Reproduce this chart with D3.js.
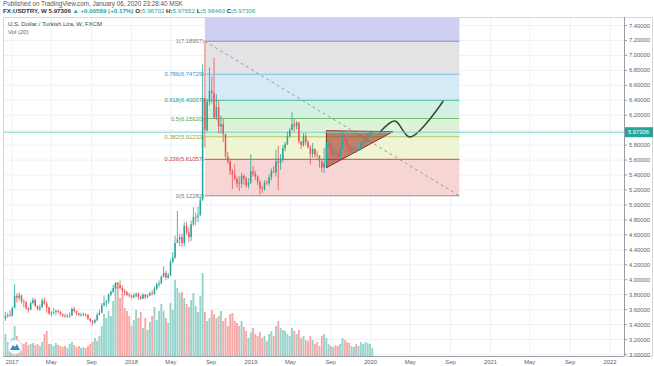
<!DOCTYPE html>
<html>
<head>
<meta charset="utf-8">
<script src="https://cdn.jsdelivr.net/npm/d3@7"></script>
<style>
    body { margin: 0; background: #fff; }
    text { font-family: "Liberation Sans", "DejaVu Sans", sans-serif; }
</style>
</head>
<body>
<div id="chart"></div>
<script>
// weekly USDTRY bars, first bar starts on Monday 2016-12-12
const firstWeek = "2016-12-12";
const firstOpen = 3.48;

const closes = [
    3.52, 3.53, 3.52,
    // 2017
    3.62, 3.78, 3.76, 3.79, 3.71, 3.70, 3.62, 3.60, 3.69, 3.73, 3.65, 3.61, 3.63,
    3.72, 3.68, 3.63, 3.55, 3.56, 3.57, 3.58, 3.57, 3.54, 3.52, 3.51, 3.52, 3.52,
    3.61, 3.58, 3.55, 3.53, 3.53, 3.54, 3.53, 3.48, 3.45, 3.43, 3.46, 3.53, 3.56,
    3.66, 3.69, 3.71, 3.80, 3.84, 3.89, 3.96, 3.93, 3.89, 3.85, 3.83, 3.80, 3.79,
    // 2018
    3.77, 3.79, 3.81, 3.77, 3.75, 3.80, 3.77, 3.79, 3.82, 3.81, 3.88, 3.94, 3.95,
    4.04, 4.09, 4.03, 4.06, 4.24, 4.30, 4.49, 4.54, 4.57, 4.49, 4.72, 4.63, 4.57,
    4.74, 4.84, 4.84, 4.86, 5.07, 6.43, 6.00, 6.38, 6.53, 6.50, 6.17, 6.31, 6.05,
    6.08, 5.95, 5.65, 5.58, 5.45, 5.41, 5.35, 5.29, 5.28, 5.39, 5.35, 5.26, 5.30, 5.45,
    // 2019
    5.42, 5.38, 5.31, 5.22, 5.21, 5.30, 5.29, 5.37, 5.45, 5.44, 5.58, 5.56, 5.60,
    5.76, 5.82, 5.92, 6.00, 6.08, 6.05, 6.10, 5.85, 5.80, 5.92, 5.84, 5.77, 5.68,
    5.75, 5.67, 5.66, 5.59, 5.50, 5.56, 5.80, 5.81, 5.68, 5.72, 5.70, 5.65, 5.75,
    5.89, 5.88, 5.80, 5.72, 5.75, 5.75, 5.73, 5.74, 5.82, 5.84, 5.86, 5.93, 5.96702,
    // 2020
    5.97306
];

const highs = [
    3.57, 3.56, 3.59,
    3.64, 3.94, 3.82, 3.83, 3.80, 3.74, 3.71, 3.64, 3.71, 3.76, 3.75, 3.66, 3.67,
    3.75, 3.76, 3.71, 3.64, 3.58, 3.62, 3.60, 3.60, 3.58, 3.55, 3.55, 3.54, 3.56,
    3.63, 3.64, 3.59, 3.56, 3.56, 3.56, 3.55, 3.54, 3.49, 3.46, 3.48, 3.56, 3.60,
    3.69, 3.79, 3.73, 3.82, 3.86, 3.93, 3.97, 3.97, 3.99, 3.92, 3.88, 3.85, 3.83,
    3.80, 3.82, 3.83, 3.83, 3.79, 3.82, 3.81, 3.81, 3.84, 3.86, 3.91, 3.96, 3.99,
    4.06, 4.18, 4.12, 4.09, 4.27, 4.37, 4.59, 4.92, 4.61, 4.62, 4.77, 4.77, 4.70,
    4.79, 4.97, 4.90, 4.98, 5.10, 6.88, 7.18957, 6.42, 6.84, 6.72, 6.97, 6.48, 6.40,
    6.20, 6.16, 5.88, 5.71, 5.62, 5.48, 5.54, 5.38, 5.38, 5.43, 5.41, 5.38, 5.36, 5.68,
    5.52, 5.46, 5.40, 5.33, 5.26, 5.33, 5.33, 5.41, 5.49, 5.52, 5.74, 5.79, 5.68,
    5.80, 5.84, 5.98, 6.03, 6.24, 6.15, 6.12, 6.11, 5.85, 5.96, 5.96, 5.87, 5.80,
    5.83, 5.75, 5.72, 5.66, 5.59, 5.76, 5.84, 5.85, 5.83, 5.79, 5.75, 5.72, 5.77,
    5.98, 5.94, 5.88, 5.80, 5.79, 5.78, 5.77, 5.78, 5.85, 5.87, 5.88, 5.95, 5.99,
    5.97652
];

const lows = [
    3.45, 3.49, 3.50,
    3.51, 3.62, 3.69, 3.72, 3.68, 3.63, 3.60, 3.56, 3.59, 3.67, 3.63, 3.59, 3.58,
    3.63, 3.66, 3.56, 3.53, 3.51, 3.54, 3.53, 3.55, 3.52, 3.50, 3.49, 3.49, 3.49,
    3.52, 3.56, 3.52, 3.51, 3.51, 3.51, 3.50, 3.46, 3.43, 3.39, 3.41, 3.44, 3.52,
    3.55, 3.64, 3.64, 3.68, 3.78, 3.82, 3.87, 3.88, 3.87, 3.80, 3.79, 3.78, 3.76,
    3.74, 3.75, 3.76, 3.73, 3.73, 3.74, 3.74, 3.75, 3.78, 3.79, 3.80, 3.86, 3.90,
    3.94, 4.03, 4.00, 4.01, 4.05, 4.22, 4.28, 4.52, 4.45, 4.44, 4.45, 4.60, 4.50,
    4.52, 4.72, 4.73, 4.77, 4.86, 5.05, 5.77, 5.98, 6.33, 6.36, 6.15, 6.13, 5.96,
    5.96, 5.84, 5.62, 5.55, 5.40, 5.21, 5.33, 5.23, 5.19, 5.23, 5.27, 5.23, 5.22, 5.28,
    5.38, 5.33, 5.27, 5.14, 5.16, 5.19, 5.27, 5.26, 5.33, 5.42, 5.38, 5.20, 5.47,
    5.57, 5.72, 5.80, 5.90, 6.00, 5.98, 6.01, 5.82, 5.75, 5.78, 5.80, 5.76, 5.54,
    5.63, 5.63, 5.62, 5.50, 5.44, 5.43, 5.53, 5.76, 5.66, 5.65, 5.66, 5.63, 5.62,
    5.75, 5.81, 5.76, 5.69, 5.70, 5.71, 5.70, 5.72, 5.73, 5.79, 5.83, 5.85, 5.93,
    5.96460
];

// tick volume, thousands
const volumes = [
    22, 14, 10,
    18, 30, 20, 15, 13, 12, 14, 11, 12, 13, 11, 12, 10,
    14, 22, 25, 12, 12, 10, 13, 11, 10, 9, 10, 8, 12,
    14, 11, 9, 10, 8, 9, 8, 10, 12, 14, 18, 15, 20,
    30, 42, 38, 45, 40, 55, 72, 70, 58, 62, 48, 45, 40,
    30, 36, 46, 38, 44, 28, 38, 26, 34, 40, 49, 36, 45,
    52, 45, 38, 33, 53, 46, 76, 68, 63, 64, 58, 52, 49,
    56, 63, 50, 44, 60, 83, 44, 35, 38, 46, 42, 38, 40,
    45, 35, 38, 30, 42, 43, 35, 33, 30, 35, 29, 25, 18, 24,
    28, 22, 20, 24, 18, 20, 15, 22, 25, 20, 30, 35, 28,
    26, 25, 22, 20, 28, 25, 22, 26, 18, 20, 16, 15, 20,
    16, 12, 14, 10, 20, 22, 18, 12, 10, 9, 11, 10, 12,
    18, 16, 14, 13, 10, 9, 12, 10, 14, 12, 14, 13, 12,
    8
];

const priceTicks = [3.0, 3.2, 3.4, 3.6, 3.8, 4.0, 4.2, 4.4, 4.6, 4.8, 5.0, 5.2,
    5.4, 5.6, 5.8, 6.0, 6.2, 6.4, 6.6, 6.8, 7.0, 7.2, 7.4];

const timeTicks = ["2017-01-01", "2017-05-01", "2017-09-01", "2018-01-01", "2018-05-01", "2018-09-01",
    "2019-01-01", "2019-05-01", "2019-09-01", "2020-01-01", "2020-05-01", "2020-09-01",
    "2021-01-01", "2021-05-01", "2021-09-01", "2022-01-01"];
const timeLabels = ["2017", "May", "Sep", "2018", "May", "Sep", "2019", "May", "Sep",
    "2020", "May", "Sep", "2021", "May", "Sep", "2022"];

// fibonacci retracement drawing: from the Aug 2018 high to the end point
const fibStart = { date: "2018-08-13", price: 7.18957 };
const fibEnd = { date: "2020-09-28", price: 5.12282 };
const fibLevels = [0, 0.236, 0.382, 0.5, 0.618, 0.786, 1, 1.618];
const fibLineColors = ["#8d9099", "#b4574f", "#b3c766", "#6cc36a", "#3fbf98", "#88c3e4", "#8d9099", "#8c8cdc"];
const fibZoneColors = ["#f7d5d5", "#eff4d3", "#ddf2d8", "#d3f0e3", "#d4eaf6", "#e3e3e5", "#cfcff3"];
const fibLabelColors = ["#7c7c7c", "#d23b3b", "#98a51f", "#4fa835", "#1f9e7a", "#3b8ecf", "#7c7c7c"];

// hand drawn triangle and projected path
const triangle = [["2019-08-19", 5.993], ["2020-03-09", 5.98], ["2019-08-19", 5.497]];
const projection = [["2020-01-27", 5.962], ["2020-03-15", 6.123], ["2020-04-30", 5.909], ["2020-08-10", 6.39]];

const lastPrice = 5.97306;

const W = 654, H = 366;
const plot = { left: 3, right: 624, top: 17, bottom: 356 };
const upColor = "#26a69a", downColor = "#ef5350";

const parse = d3.utcParse("%Y-%m-%d");

let bars = closes.map((c, i) => ({
    date: d3.utcMonday.offset(parse(firstWeek), i),
    open: i === 0 ? firstOpen : closes[i - 1],
    high: highs[i],
    low: lows[i],
    close: c,
    vol: volumes[i]
}));

const svg = d3.select("#chart").append("svg")
    .attr("width", W)
    .attr("height", H);

svg.append("rect").attr("width", W).attr("height", H).attr("fill", "#fff");

// SCALES
const x = d3.scaleUtc()
    .domain([parse("2017-01-01"), parse("2022-01-01")])
    .range([12, 610]);

const y = d3.scaleLinear()
    .domain([3.0, 7.4])
    .range([354.5, 25.5]);

const yVol = d3.scaleLinear()
    .domain([0, d3.max(volumes)])
    .range([plot.bottom, plot.bottom - 83]);

svg.append("clipPath").attr("id", "clip")
    .append("rect")
    .attr("x", plot.left).attr("y", plot.top)
    .attr("width", plot.right - plot.left).attr("height", plot.bottom - plot.top);

// grid
const grid = svg.append("g").attr("clip-path", "url(#clip)");
grid.selectAll(".vgrid").data(timeTicks).enter().append("line")
    .attr("x1", d => x(parse(d))).attr("x2", d => x(parse(d)))
    .attr("y1", plot.top).attr("y2", plot.bottom)
    .attr("stroke", "#eef1f6");
grid.selectAll(".hgrid").data(priceTicks).enter().append("line")
    .attr("x1", plot.left).attr("x2", plot.right)
    .attr("y1", d => y(d)).attr("y2", d => y(d))
    .attr("stroke", "#eef1f6");

// fib zones
const fibG = svg.append("g").attr("clip-path", "url(#clip)");
const fx0 = x(parse(fibStart.date)), fx1 = x(parse(fibEnd.date));
const fibPrice = lvl => fibEnd.price + lvl * (fibStart.price - fibEnd.price);

fibZoneColors.forEach((col, i) => {
    let yTop = y(fibPrice(fibLevels[i + 1])), yBot = y(fibPrice(fibLevels[i]));
    fibG.append("rect")
        .attr("x", fx0).attr("width", fx1 - fx0)
        .attr("y", yTop).attr("height", yBot - yTop)
        .attr("fill", col);
});

fibLevels.slice(0, 7).forEach((lvl, i) => {
    fibG.append("line")
        .attr("x1", fx0).attr("x2", fx1)
        .attr("y1", y(fibPrice(lvl))).attr("y2", y(fibPrice(lvl)))
        .attr("stroke", fibLineColors[i])
        .attr("stroke-width", 1);
    svg.append("text")
        .attr("x", fx0 - 1)
        .attr("y", y(fibPrice(lvl)) + 2)
        .attr("text-anchor", "end")
        .attr("font-size", 5.8)
        .attr("fill", fibLabelColors[i])
        .text(lvl + "(" + fibPrice(lvl).toFixed(5) + ")");
});

// dashed trend line of the fib tool
fibG.append("line")
    .attr("x1", fx0).attr("y1", y(fibStart.price))
    .attr("x2", fx1).attr("y2", y(fibEnd.price))
    .attr("stroke", "#9a9ca3")
    .attr("stroke-width", 1)
    .attr("stroke-dasharray", "3,3");

// current price line
svg.append("line")
    .attr("x1", plot.left).attr("x2", plot.right)
    .attr("y1", y(lastPrice)).attr("y2", y(lastPrice))
    .attr("stroke", "#7fd0c7")
    .attr("stroke-width", 1);

// volume
const dataG = svg.append("g").attr("clip-path", "url(#clip)");
const volW = 1.9;
dataG.selectAll(".vol").data(bars).enter().append("rect")
    .attr("x", d => x(d.date) - volW / 2)
    .attr("width", volW)
    .attr("y", d => yVol(d.vol))
    .attr("height", d => plot.bottom - yVol(d.vol))
    .attr("fill", d => d.close >= d.open ? "#95d3cc" : "#f6a8a6");

// candles
const candleW = 1.5;
dataG.selectAll(".wick").data(bars).enter().append("line")
    .attr("x1", d => x(d.date)).attr("x2", d => x(d.date))
    .attr("y1", d => y(d.high)).attr("y2", d => y(d.low))
    .attr("stroke", d => d.close >= d.open ? upColor : downColor)
    .attr("stroke-width", 0.8);
dataG.selectAll(".body").data(bars).enter().append("rect")
    .attr("x", d => x(d.date) - candleW / 2)
    .attr("width", candleW)
    .attr("y", d => y(Math.max(d.open, d.close)))
    .attr("height", d => Math.max(0.8, Math.abs(y(d.open) - y(d.close))))
    .attr("fill", d => d.close >= d.open ? upColor : downColor);

// triangle
const pt = d => [x(parse(d[0])), y(d[1])];
fibG.append("path")
    .attr("d", "M" + triangle.map(pt).join("L") + "Z")
    .attr("fill", "rgba(150, 35, 25, 0.55)")
    .attr("stroke", "#8e2b22")
    .attr("stroke-width", 1);

// projected path
fibG.append("path")
    .attr("d", d3.line().curve(d3.curveCatmullRom.alpha(0.5))(projection.map(pt)))
    .attr("fill", "none")
    .attr("stroke", "#34473d")
    .attr("stroke-width", 1.5);

// frame and axes
svg.append("rect")
    .attr("x", plot.left + 0.5).attr("y", plot.top + 0.5)
    .attr("width", W - plot.left - 2).attr("height", plot.bottom - plot.top)
    .attr("fill", "none")
    .attr("stroke", "#d6d8de");
svg.append("line")
    .attr("x1", plot.right + 0.5).attr("x2", plot.right + 0.5)
    .attr("y1", plot.top).attr("y2", plot.bottom)
    .attr("stroke", "#9a9ca3");
svg.append("line")
    .attr("x1", plot.left).attr("x2", plot.right)
    .attr("y1", plot.bottom + 0.5).attr("y2", plot.bottom + 0.5)
    .attr("stroke", "#9a9ca3");

// price axis; labels hidden behind the last-price box are skipped
const yAxis = svg.append("g");
priceTicks.forEach(p => {
    yAxis.append("line")
        .attr("x1", plot.right).attr("x2", plot.right + 3)
        .attr("y1", y(p)).attr("y2", y(p))
        .attr("stroke", "#9a9ca3");
    if (Math.abs(y(p) - y(lastPrice)) < 9) return;
    yAxis.append("text")
        .attr("x", plot.right + 5).attr("y", y(p) + 2)
        .attr("font-size", 5.8)
        .attr("fill", "#5d606b")
        .text(p.toFixed(5));
});

// last price label
svg.append("rect")
    .attr("x", plot.right + 1).attr("y", y(lastPrice) - 5)
    .attr("width", 28).attr("height", 10)
    .attr("fill", upColor);
svg.append("text")
    .attr("x", plot.right + 4).attr("y", y(lastPrice) + 2)
    .attr("font-size", 5.8)
    .attr("fill", "#fff")
    .text(lastPrice.toFixed(5));

// time axis
timeTicks.forEach((t, i) => {
    svg.append("text")
        .attr("x", x(parse(t))).attr("y", 364)
        .attr("text-anchor", "middle")
        .attr("font-size", 5.8)
        .attr("fill", "#5d606b")
        .text(timeLabels[i]);
});

// headers
svg.append("text")
    .attr("x", 3).attr("y", 5.5)
    .attr("font-size", 6.3)
    .attr("fill", "#555")
    .text("Published on TradingView.com, January 06, 2020 23:28:40 MSK");

const hdr = svg.append("text")
    .attr("x", 3).attr("y", 13)
    .attr("font-size", 6.2)
    .attr("font-weight", "bold")
    .attr("fill", "#333");
hdr.append("tspan").text("FX:USDTRY, W 5.97306 ");
hdr.append("tspan").attr("fill", upColor).text("▲ +0.00589 (+0.17%) ");
[["O:", "5.96702"], ["H:", "5.97652"], ["L:", "5.96460"], ["C:", "5.97306"]].forEach(d => {
    hdr.append("tspan").text(d[0]);
    hdr.append("tspan").attr("fill", upColor).attr("font-weight", "normal").text(d[1] + " ");
});

svg.append("text")
    .attr("x", 8).attr("y", 26)
    .attr("font-size", 6)
    .attr("fill", "#4a4a4a")
    .text("U.S. Dollar / Turkish Lira, W, FXCM");
svg.append("text")
    .attr("x", 8).attr("y", 34)
    .attr("font-size", 6)
    .attr("fill", "#6a6a6a")
    .text("Vol (20)");

// logo
svg.append("circle")
    .attr("cx", 15).attr("cy", 347).attr("r", 7)
    .attr("fill", "#fff").attr("stroke", "#e0e3eb");
svg.append("path")
    .attr("d", "M10,350 L13,345 L15,347 L17,344 L20,350 Z")
    .attr("fill", "#2d8fd5");
</script>
</body>
</html>
